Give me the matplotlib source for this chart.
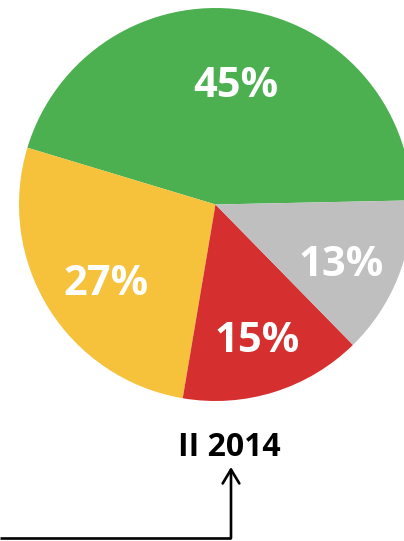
import matplotlib.pyplot as plt
from matplotlib.transforms import offset_copy

# ---- DATA ----
labels = ["green", "yellow", "red", "gray"]
shares = [45, 27, 15, 13]
colors = ["#4CB050", "#F6C23C", "#D62F2F", "#BFBFBF"]
title = "II 2014"

# ---- FIGURE ----
W, H = 404, 541
fig = plt.figure(figsize=(W / 100, H / 100), dpi=100)

# pie axes: centre (215.5, 204.5) px, radius 196.5 px
cx, cy, r = 215.5, 204.5, 196.5
ax = fig.add_axes([(cx - r) / W, (H - cy - r) / H, 2 * r / W, 2 * r / H])
wedges, texts, pcts = ax.pie(
    shares, colors=colors, startangle=1.2, counterclock=True, radius=1,
    autopct="%d%%", pctdistance=0.69,
    wedgeprops=dict(linewidth=0),
    textprops=dict(color="white", fontsize=30, fontweight="bold", family="Open Sans"),
)
# nudge labels (pixel offsets) to sit like the original
nudges = [(3, -6), (6, -9), (1, -8), (0, -10)]
x0, y0 = pcts[0].get_position()
pcts[0].set_position((x0 * 0.92, y0 * 0.92))
for t, (dx, dy) in zip(pcts, nudges):
    t.set_transform(offset_copy(ax.transData, fig=fig, x=dx, y=dy, units="dots"))
for w in wedges:
    w.set_clip_on(False)
ax.set_xlim(-1, 1)
ax.set_ylim(-1, 1)
ax.set_aspect("equal")
ax.axis("off")

# ---- TITLE + ARROW ----
fig.text(229 / W, (H - 448) / H, title, ha="center", va="center",
         fontsize=23, fontweight="bold", family="Open Sans", color="black")

fig.add_artist(plt.Line2D([0, 231 / W], [(H - 538) / H, (H - 538) / H],
                          color="black", lw=1.9, solid_capstyle="butt"))
ax.annotate("", xy=(231, H - 467), xycoords="figure pixels",
            xytext=(231, H - 538), textcoords="figure pixels",
            arrowprops=dict(arrowstyle="->,head_length=1.0,head_width=0.6",
                            color="black", lw=1.9, shrinkA=0, shrinkB=0))

fig.savefig("out.png", dpi=100)
